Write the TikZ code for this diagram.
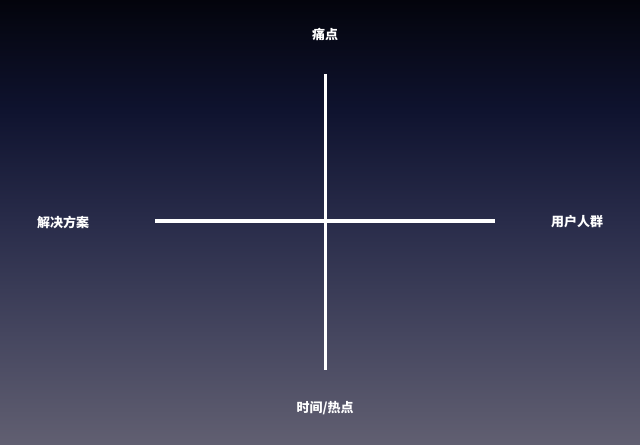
\documentclass[tikz,border=0pt]{standalone}
\usepackage{fontspec}
\newfontfamily\cjk{Noto Sans CJK SC}
\usetikzlibrary{positioning}
\definecolor{skytop}{HTML}{03040C}
\definecolor{skyhigh}{HTML}{0F132F}
\definecolor{skymid}{HTML}{292C4A}
\definecolor{skylow}{HTML}{45465F}
\definecolor{skybot}{HTML}{615F71}
\pgfdeclareverticalshading{sky}{100bp}{color(0bp)=(skybot); color(25bp)=(skybot); color(37.5bp)=(skylow); color(50bp)=(skymid); color(62.5bp)=(skyhigh); color(75bp)=(skytop); color(100bp)=(skytop)}
\tikzstyle{axis} = [white, line width=3bp]
\tikzstyle{quad} = [text=white, font=\cjk\bfseries\fontsize{13bp}{15bp}\selectfont, inner sep=0pt]

\begin{document}
\begin{tikzpicture}[x=1bp, y=1bp]
			\shade[shading=sky] (0,0) rectangle (640,445);
			\useasboundingbox (0,0) rectangle (640,445);
			\coordinate(up) at (325,371);
			\coordinate(down) at (325,75);
			\coordinate(west) at (155,223.5);
			\coordinate(east) at (495,223.5);
			\node(pain)[quad] at (325,411) {痛点};
			\node(solve)[quad] at (63,223) {解决方案};
			\node(users)[quad] at (577,223) {用户人群};
			\node(time)[quad] at (325,37) {时间/热点};
			\draw [axis] (up) -- (down);
			\draw [axis, line width=4bp] (west) -- (east);
		\end{tikzpicture}
\end{document}
